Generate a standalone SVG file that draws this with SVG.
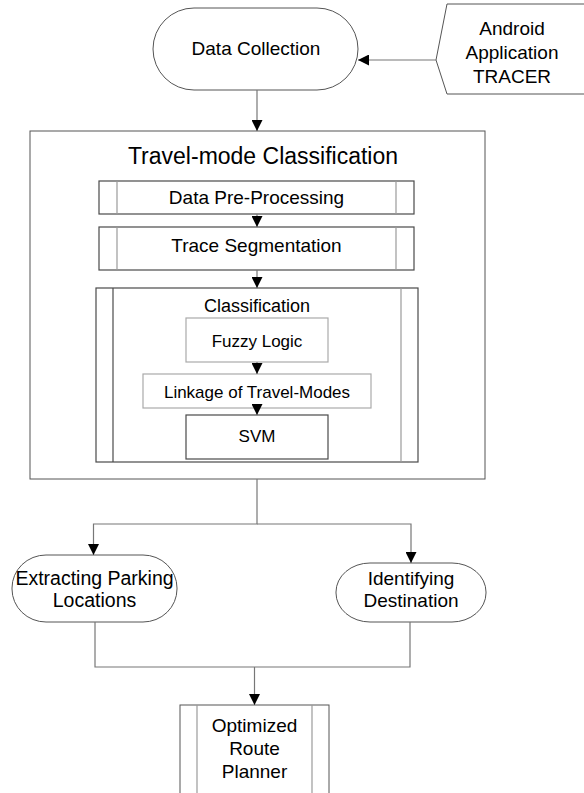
<svg xmlns="http://www.w3.org/2000/svg" width="584" height="793" viewBox="0 0 584 793">
<defs>
<style>
text{font-family:"Liberation Sans",Arial,sans-serif;fill:#000;text-anchor:middle}
.s{fill:#fff;stroke:#555;stroke-width:1}
.o{fill:#fff;stroke:#4a4a4a;stroke-width:1.2}
.in{stroke:#9a9a9a;stroke-width:1.2;fill:none}
.c{fill:none;stroke:#777;stroke-width:1.2}
.f19{font-size:19px}
.f17{font-size:17px}
</style>
<marker id="ah" markerUnits="userSpaceOnUse" markerWidth="11" markerHeight="11" refX="11" refY="5.5" orient="auto" viewBox="0 0 11 11">
<path d="M0,0 L11,5.5 L0,11 z" fill="#000"/>
</marker>
</defs>
<rect width="584" height="793" fill="#fff"/>

<g id="travel-mode">
<rect class="s" x="30" y="131" width="455" height="348" stroke="#777"/>
<text x="263" y="164" style="font-size:23px">Travel-mode Classification</text>
</g>

<g id="data-collection">
<rect class="s" x="153" y="8" width="205" height="82" rx="41" ry="41"/>
<text class="f19" x="256" y="55">Data Collection</text>
</g>

<g id="android">
<polygon class="s" points="447,4 590,4 590,94 447,94 436,60"/>
<text class="f19" x="512" y="35">Android</text>
<text class="f19" x="512" y="59">Application</text>
<text class="f19" x="512" y="83">TRACER</text>
</g>

<g id="preprocessing">
<rect class="o" x="99" y="181" width="315" height="33"/>
<line class="in" x1="117" y1="181" x2="117" y2="214"/>
<line class="in" x1="396" y1="181" x2="396" y2="214"/>
<text class="f19" x="256.5" y="204">Data Pre-Processing</text>
</g>

<g id="segmentation">
<rect class="o" x="99" y="227" width="315" height="43"/>
<line class="in" x1="117" y1="227" x2="117" y2="270"/>
<line class="in" x1="396" y1="227" x2="396" y2="270"/>
<text class="f19" x="256.5" y="252">Trace Segmentation</text>
</g>

<g id="classification">
<rect class="o" x="96" y="288" width="322" height="174"/>
<line class="o" x1="113" y1="288" x2="113" y2="462"/>
<line class="in" x1="401" y1="288" x2="401" y2="462"/>
<text x="257" y="312" style="font-size:18px">Classification</text>
</g>

<g id="fuzzy">
<rect x="186" y="318" width="142" height="44" fill="#fff" stroke="#aaa" stroke-width="1.2"/>
<text class="f17" x="257" y="347">Fuzzy Logic</text>
</g>

<g id="linkage">
<rect x="143" y="374" width="228" height="34" fill="#fff" stroke="#aaa" stroke-width="1.2"/>
<text class="f17" x="257" y="398">Linkage of Travel-Modes</text>
</g>

<g id="svm">
<rect class="o" x="186" y="415" width="142" height="44"/>
<text class="f17" x="257" y="442">SVM</text>
</g>

<g id="parking">
<rect class="s" x="12" y="555" width="165" height="67" rx="34" ry="33"/>
<text x="94.5" y="585" style="font-size:19.5px">Extracting Parking</text>
<text x="94.5" y="607" style="font-size:19.5px">Locations</text>
</g>

<g id="destination">
<rect class="s" x="336" y="563" width="150" height="59" rx="34" ry="29"/>
<text class="f19" x="411" y="585">Identifying</text>
<text class="f19" x="411" y="607">Destination</text>
</g>

<g id="planner">
<rect class="s" x="180" y="705" width="149" height="100" stroke="#aaa"/>
<line class="in" x1="197" y1="705" x2="197" y2="793"/>
<line class="in" x1="312" y1="705" x2="312" y2="793"/>
<text class="f19" x="254.5" y="732">Optimized</text>
<text class="f19" x="254.5" y="755">Route</text>
<text class="f19" x="254.5" y="778">Planner</text>
</g>

<g id="connectors">
<line class="c" x1="436" y1="60" x2="358" y2="60" marker-end="url(#ah)"/>
<line class="c" x1="257" y1="90" x2="257" y2="131" marker-end="url(#ah)"/>
<line class="c" x1="257" y1="214" x2="257" y2="227" marker-end="url(#ah)"/>
<line class="c" x1="257" y1="270" x2="257" y2="288" marker-end="url(#ah)"/>
<line class="c" x1="257" y1="362" x2="257" y2="374" marker-end="url(#ah)"/>
<line class="c" x1="257" y1="408" x2="257" y2="415" marker-end="url(#ah)"/>
<polyline class="c" points="257,479 257,524 93.5,524 93.5,555" marker-end="url(#ah)"/>
<polyline class="c" points="257,524 411,524 411,563" marker-end="url(#ah)"/>
<polyline class="c" points="95,622 95,667 410,667 410,622"/>
<line class="c" x1="254.5" y1="667" x2="254.5" y2="705" marker-end="url(#ah)"/>
</g>
</svg>
